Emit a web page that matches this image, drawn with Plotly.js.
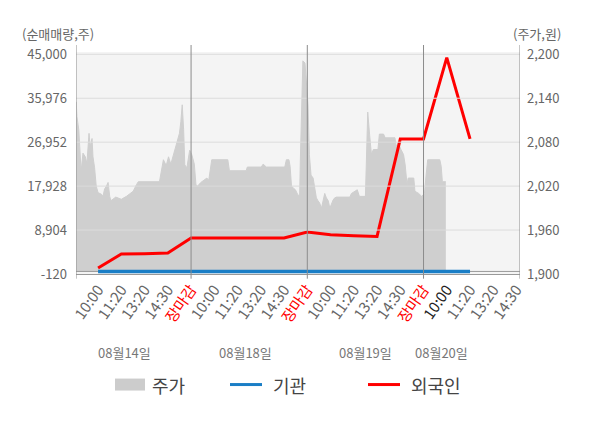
<!DOCTYPE html>
<html>
<head>
<meta charset="utf-8">
<script src="https://cdn.plot.ly/plotly-3.0.1.min.js"></script>
<style>
  html, body { margin: 0; padding: 0; background: #fff; }
  #chart { width: 600px; height: 428px; }
</style>
</head>
<body>
<div id="chart"></div>
<script>
// x is a slot index: each trading day takes 5 slots (10:00, 11:20, 13:20, 14:30, 장마감)
const tickSlots = [1, 2, 3, 4, 5, 6, 7, 8, 9, 10, 11, 12, 13, 14, 15, 16, 17, 18, 19];
const tickNames = [
  '10:00', '11:20', '13:20', '14:30', '장마감',
  '10:00', '11:20', '13:20', '14:30', '장마감',
  '10:00', '11:20', '13:20', '14:30', '장마감',
  '10:00', '11:20', '13:20', '14:30'
];
const dayLabels = ['08월14일', '08월18일', '08월19일', '08월20일'];
const dayLabelSlots = [2.12, 7.32, 12.5, 15.76];

// 주가 (원), intraday
const priceSlot = [
  0.0, 0.06, 0.09, 0.13, 0.17, 0.27, 0.35, 0.45, 0.52, 0.61, 0.66, 0.74, 0.78, 0.85, 0.92,
  1.0, 1.14, 1.21, 1.28, 1.36, 1.43, 1.5, 1.55, 1.76, 2.0, 2.22, 2.51, 2.65, 2.73, 3.64,
  3.74, 3.81, 3.93, 4.03, 4.13, 4.5, 4.56, 4.62, 4.68, 4.73, 4.82, 4.94, 5.03,
  5.06, 5.14, 5.21, 5.28, 5.42, 5.68, 5.76, 5.83, 5.89, 6.58, 6.65, 7.37, 7.42, 8.02,
  8.1, 8.24, 9.03, 9.1, 9.21, 9.26, 9.32, 9.41, 9.49, 9.58, 9.67,
  9.7, 9.75, 9.81, 9.9, 9.96, 10.03, 10.09, 10.16, 10.25, 10.32, 10.39, 10.46, 10.53,
  10.61, 10.68, 10.75, 10.82, 10.9, 10.97, 11.04, 11.11, 11.18, 11.26, 11.83, 11.9,
  12.15, 12.24, 12.5, 12.54, 12.6, 12.68, 12.76, 12.84, 13.04, 13.1, 13.28, 13.35,
  13.77, 13.82, 13.91, 14.03, 14.14, 14.21, 14.29, 14.34, 14.58, 14.63, 14.79, 14.92,
  15.04, 15.11, 15.18, 15.7, 15.76, 15.81, 15.96
];
const priceWon = [
  2108, 2135, 2115, 2104, 2097, 2040, 2065, 2060, 2051, 2092, 2074, 2085, 2060, 2045, 2020,
  2011, 2009, 2006, 2016, 2020, 2025, 2006, 2000, 2005, 2002, 2006, 2013, 2022, 2026, 2026,
  2047, 2056, 2048, 2060, 2050, 2092, 2108, 2131, 2097, 2049, 2045, 2069, 2063,
  2060, 2050, 2022, 2020, 2025, 2031, 2028, 2042, 2056, 2056, 2041, 2041, 2046, 2046,
  2050, 2046, 2046, 2056, 2056, 2047, 2020, 2017, 2015, 2009, 2006,
  2054, 2142, 2191, 2188, 2154, 2131, 2063, 2035, 2031, 2017, 2004, 2000, 1997,
  1990, 2000, 2010, 2004, 2000, 1990, 1997, 2001, 2004, 2005, 2005, 2010,
  2015, 2006, 2006, 2063, 2121, 2090, 2063, 2070, 2070, 2091, 2091, 2086,
  2086, 2074, 2079, 2070, 2063, 2049, 2022, 2031, 2031, 2013, 2010, 2006,
  2010, 2035, 2056, 2056, 2047, 2026, 2026
];
const priceFloor = 1903.5;

// 순매매량 (주), cumulative
const flowSlot = [1, 2, 3, 4, 5, 6, 7, 8, 9, 10, 11, 12, 13, 14, 15, 16, 17];
const institution = [400, 400, 400, 400, 400, 400, 400, 400, 400, 400, 400, 400, 400, 400, 400, 400, 400];
const foreigner = [1110, 3980, 4040, 4190, 7260, 7260, 7260, 7260, 7260, 8500, 7940, 7740, 7590, 27630, 27630, 44300, 27630];

const volTicks = [-120, 8904, 17928, 26952, 35976, 45000];
const priceTicks = [1900, 1960, 2020, 2080, 2140, 2200];

const FONT = '"Noto Sans CJK KR", "Noto Sans", sans-serif';
const fmt = v => v.toLocaleString('en-US');

// price area sits on the base axis (y, right side), flows on y2 (left side) so lines draw on top
const traces = [
  {
    x: [priceSlot[0], priceSlot[priceSlot.length - 1]], y: [priceFloor, priceFloor],
    yaxis: 'y', mode: 'lines', line: {width: 0}, hoverinfo: 'skip', showlegend: false
  },
  {
    x: priceSlot, y: priceWon, yaxis: 'y', name: '주가',
    mode: 'lines', fill: 'tonexty', fillcolor: '#cfcfcf',
    line: {color: '#cfcfcf', width: 1}, showlegend: false
  },
  {
    x: [0.05, 19.15], y: [priceFloor, priceFloor], yaxis: 'y',
    mode: 'lines', line: {color: '#9a9a9a', width: 1}, hoverinfo: 'skip', showlegend: false
  },
  {
    x: flowSlot, y: institution, name: '기관', yaxis: 'y2', mode: 'lines',
    line: {color: '#1a7ec6', width: 3.5}, showlegend: false
  },
  {
    x: flowSlot, y: foreigner, name: '외국인', yaxis: 'y2', mode: 'lines',
    line: {color: '#ff0000', width: 3}, showlegend: false
  }
];

const tickText = tickNames.map((t, i) => {
  if (t === '장마감') return '<span style="color:#ff0000">' + t + '</span>';
  if (i === 15) return '<span style="color:#222">' + t + '</span>';
  return t;
});

const yPx = px => (274.3 - px) / 222.3;
const xPx = px => (px - 76) / 444;

const shapes = [];
// horizontal grid drawn over the price area
volTicks.slice(1).forEach(v => {
  shapes.push({
    type: 'line', xref: 'paper', yref: 'y2', x0: 0, x1: 1, y0: v, y1: v,
    line: {color: '#dcdcdc', width: 1}
  });
});
[0.05, 5, 10, 15, 19.15].forEach(s => {
  shapes.push({
    type: 'line', xref: 'x', yref: 'paper', x0: s, x1: s, y0: yPx(279), y1: yPx(45),
    line: {color: '#8c8c8c', width: 1}
  });
});
shapes.push({
  type: 'rect', xref: 'paper', yref: 'paper',
  x0: xPx(115), x1: xPx(145), y0: yPx(391), y1: yPx(379),
  fillcolor: '#cccccc', line: {width: 0}
});
shapes.push({
  type: 'line', xref: 'paper', yref: 'paper',
  x0: xPx(230), x1: xPx(262), y0: yPx(385), y1: yPx(385),
  line: {color: '#1a7ec6', width: 3}
});
shapes.push({
  type: 'line', xref: 'paper', yref: 'paper',
  x0: xPx(368), x1: xPx(400), y0: yPx(385), y1: yPx(385),
  line: {color: '#ff0000', width: 3}
});

const annotations = dayLabels.map((d, i) => ({
  text: d, x: dayLabelSlots[i], xref: 'x', y: yPx(353), yref: 'paper',
  showarrow: false, font: {family: FONT, size: 13, color: '#777'}, xanchor: 'center', yanchor: 'middle'
}));
annotations.push(
  {text: '(순매매량,주)', xref: 'paper', yref: 'paper', x: xPx(20), y: yPx(33),
   xanchor: 'left', yanchor: 'middle', showarrow: false, font: {family: FONT, size: 13, color: '#666'}},
  {text: '(주가,원)', xref: 'paper', yref: 'paper', x: xPx(563), y: yPx(33),
   xanchor: 'right', yanchor: 'middle', showarrow: false, font: {family: FONT, size: 13, color: '#666'}},
  {text: '주가', xref: 'paper', yref: 'paper', x: xPx(150), y: yPx(385),
   xanchor: 'left', yanchor: 'middle', showarrow: false, font: {family: FONT, size: 18, color: '#444'}},
  {text: '기관', xref: 'paper', yref: 'paper', x: xPx(271), y: yPx(385),
   xanchor: 'left', yanchor: 'middle', showarrow: false, font: {family: FONT, size: 18, color: '#444'}},
  {text: '외국인', xref: 'paper', yref: 'paper', x: xPx(409), y: yPx(385),
   xanchor: 'left', yanchor: 'middle', showarrow: false, font: {family: FONT, size: 18, color: '#444'}}
);

const layout = {
  width: 600, height: 428,
  margin: {l: 76, r: 80, t: 52, b: 153.7},
  paper_bgcolor: '#ffffff', plot_bgcolor: '#f4f4f4',
  font: {family: FONT, color: '#666'},
  showlegend: false,
  xaxis: {
    range: [0.05, 19.15], showgrid: false, zeroline: false,
    tickmode: 'array', tickvals: tickSlots, ticktext: tickText, tickangle: -55,
    tickfont: {family: FONT, size: 15, color: '#666'},
    showline: true, linecolor: '#999', linewidth: 1, ticks: ''
  },
  yaxis: {
    side: 'right', range: [1900, 2203.1],
    tickmode: 'array', tickvals: priceTicks, ticktext: priceTicks.map(fmt),
    showgrid: false, zeroline: false,
    tickfont: {family: FONT, size: 13, color: '#666'}, ticklabelstandoff: 6, ticks: ''
  },
  yaxis2: {
    overlaying: 'y', side: 'left', range: [-120, 45472],
    tickmode: 'array', tickvals: volTicks, ticktext: volTicks.map(fmt),
    showgrid: false, zeroline: false,
    tickfont: {family: FONT, size: 13, color: '#666'}, ticklabelstandoff: 8, ticks: ''
  },
  shapes: shapes,
  annotations: annotations
};

Plotly.newPlot('chart', traces, layout, {displayModeBar: false, staticPlot: true});
</script>
</body>
</html>
